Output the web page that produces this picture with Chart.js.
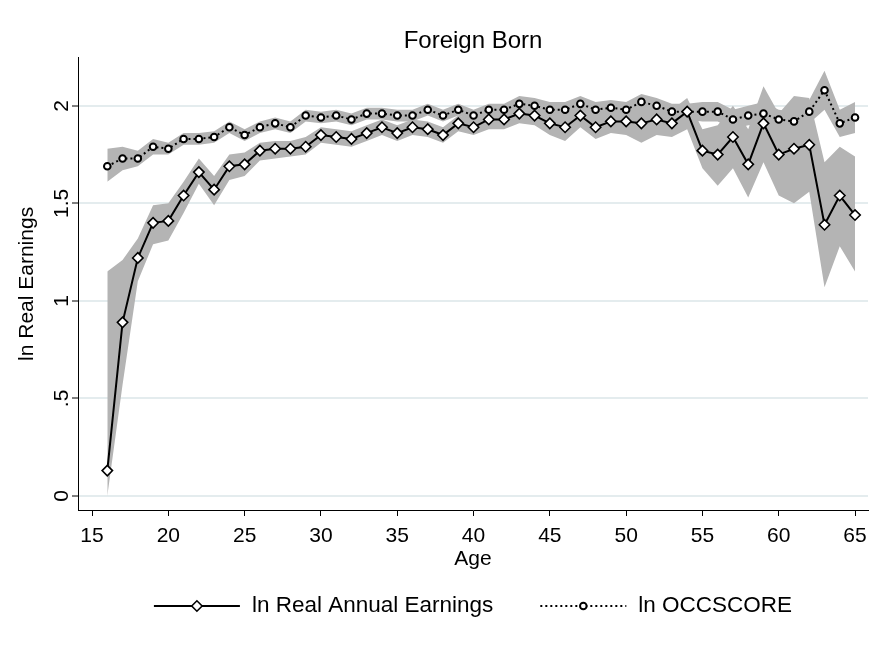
<!DOCTYPE html>
<html>
<head>
<meta charset="utf-8">
<script src="https://cdn.jsdelivr.net/npm/chart.js@4.4.1/dist/chart.umd.min.js"></script>
<style>
  html, body { margin: 0; padding: 0; background: #fff; }
  #wrap { width: 889px; height: 657px; }
</style>
</head>
<body>
<div id="wrap"><canvas id="chart" width="889" height="657"></canvas></div>
<script>
const ages = [16, 17, 18, 19, 20, 21, 22, 23, 24, 25, 26, 27, 28, 29, 30, 31, 32, 33, 34, 35,
    36, 37, 38, 39, 40, 41, 42, 43, 44, 45, 46, 47, 48, 49, 50, 51, 52, 53, 54, 55,
    56, 57, 58, 59, 60, 61, 62, 63, 64, 65];

// ln real annual earnings (diamonds, solid)
const earnings = [0.13, 0.89, 1.22, 1.40, 1.41, 1.54, 1.66, 1.57, 1.69, 1.70, 1.77, 1.78, 1.78, 1.79, 1.85, 1.84, 1.83, 1.86, 1.89, 1.86,
    1.89, 1.88, 1.85, 1.91, 1.89, 1.93, 1.93, 1.96, 1.95, 1.91, 1.89, 1.95, 1.89, 1.92, 1.92, 1.91, 1.93, 1.91, 1.97, 1.77,
    1.75, 1.84, 1.70, 1.91, 1.75, 1.78, 1.80, 1.39, 1.54, 1.44];
const earningsLow = [0.00, 0.57, 1.10, 1.29, 1.31, 1.45, 1.60, 1.49, 1.62, 1.64, 1.72, 1.73, 1.74, 1.75, 1.81, 1.80, 1.79, 1.82, 1.85, 1.82,
    1.85, 1.84, 1.81, 1.87, 1.85, 1.88, 1.88, 1.91, 1.90, 1.85, 1.82, 1.89, 1.83, 1.86, 1.85, 1.81, 1.85, 1.84, 1.88, 1.68,
    1.59, 1.68, 1.53, 1.71, 1.54, 1.50, 1.56, 1.07, 1.28, 1.15];
const earningsHigh = [1.15, 1.21, 1.32, 1.49, 1.50, 1.61, 1.73, 1.64, 1.75, 1.76, 1.81, 1.82, 1.82, 1.84, 1.89, 1.88, 1.87, 1.90, 1.93, 1.90,
    1.93, 1.92, 1.89, 1.95, 1.93, 1.97, 1.97, 2.00, 1.99, 1.96, 1.95, 2.00, 1.95, 1.98, 1.98, 2.00, 2.00, 1.98, 2.04, 1.88,
    1.90, 2.00, 1.88, 2.10, 1.96, 2.05, 2.04, 1.71, 1.79, 1.74];

// ln OCCSCORE (circles, dotted)
const occscore = [1.69, 1.73, 1.73, 1.79, 1.78, 1.83, 1.83, 1.84, 1.89, 1.85, 1.89, 1.91, 1.89, 1.95, 1.94, 1.95, 1.93, 1.96, 1.96, 1.95,
    1.95, 1.98, 1.95, 1.98, 1.95, 1.98, 1.98, 2.01, 2.00, 1.98, 1.98, 2.01, 1.98, 1.99, 1.98, 2.02, 2.00, 1.97, 1.97, 1.97,
    1.97, 1.93, 1.95, 1.96, 1.93, 1.92, 1.97, 2.08, 1.91, 1.94];
const occLow = [1.61, 1.67, 1.69, 1.75, 1.75, 1.80, 1.80, 1.81, 1.86, 1.82, 1.86, 1.88, 1.86, 1.92, 1.91, 1.92, 1.90, 1.93, 1.93, 1.92,
    1.92, 1.95, 1.92, 1.95, 1.92, 1.95, 1.95, 1.97, 1.96, 1.94, 1.94, 1.97, 1.94, 1.95, 1.94, 1.98, 1.96, 1.93, 1.93, 1.92,
    1.92, 1.88, 1.90, 1.90, 1.88, 1.87, 1.91, 1.98, 1.84, 1.86];
const occHigh = [1.78, 1.79, 1.77, 1.83, 1.81, 1.86, 1.86, 1.87, 1.92, 1.88, 1.92, 1.94, 1.92, 1.98, 1.97, 1.98, 1.96, 1.99, 1.99, 1.98,
    1.98, 2.01, 1.98, 2.01, 1.98, 2.01, 2.01, 2.05, 2.04, 2.02, 2.02, 2.05, 2.02, 2.03, 2.02, 2.06, 2.04, 2.01, 2.01, 2.02,
    2.02, 1.98, 2.00, 2.02, 1.98, 1.97, 2.03, 2.18, 1.98, 2.02];

const xTicks = [15, 20, 25, 30, 35, 40, 45, 50, 55, 60, 65];
const xTickLabels = ['15', '20', '25', '30', '35', '40', '45', '50', '55', '60', '65'];
const yTicks = [0, 0.5, 1, 1.5, 2];
const yTickLabels = ['0', '.5', '1', '1.5', '2'];

const FONT = "'Liberation Sans', Arial, sans-serif";
const BAND = '#b4b4b4';

const pts = (vals) => ages.map((a, i) => ({ x: a, y: vals[i] }));

const bandSet = (vals, fill) => ({
    data: pts(vals),
    fill: fill,
    backgroundColor: BAND,
    borderWidth: 0,
    pointRadius: 0,
    order: 5
});

// legend drawn like stata: line + marker sample, then label
const stataLegend = {
    id: 'stataLegend',
    afterDraw(chart) {
        const ctx = chart.ctx;
        const area = chart.chartArea;
        const items = [chart.data.datasets[5], chart.data.datasets[4]];
        const symW = 86, gapTxt = 12, gapItem = 47, y = 606;
        ctx.save();
        ctx.font = '22.5px ' + FONT;
        const widths = items.map(d => ctx.measureText(d.label).width);
        const total = symW * 2 + gapTxt * 2 + widths[0] + widths[1] + gapItem;
        let x = (area.left + area.right) / 2 - total / 2;
        items.forEach((d, i) => {
            ctx.strokeStyle = '#000';
            ctx.lineWidth = d.borderWidth;
            ctx.setLineDash(d.borderDash || []);
            ctx.beginPath();
            ctx.moveTo(x, y);
            ctx.lineTo(x + symW, y);
            ctx.stroke();
            ctx.setLineDash([]);
            ctx.fillStyle = '#fff';
            ctx.lineWidth = d.pointBorderWidth;
            Chart.helpers.drawPoint(ctx, {
                pointStyle: d.pointStyle,
                radius: d.pointRadius,
                borderWidth: d.pointBorderWidth,
                rotation: 0
            }, x + symW / 2, y);
            ctx.fillStyle = '#000';
            ctx.textAlign = 'left';
            ctx.textBaseline = 'middle';
            ctx.fillText(d.label, x + symW + gapTxt, y);
            x += symW + gapTxt + widths[i] + gapItem;
        });
        ctx.restore();
    }
};

const ctx = document.getElementById('chart').getContext('2d');
new Chart(ctx, {
    type: 'line',
    data: {
        datasets: [
            bandSet(earningsLow, false),
            bandSet(earningsHigh, '-1'),
            bandSet(occLow, false),
            bandSet(occHigh, '-1'),
            {
                label: 'ln OCCSCORE',
                data: pts(occscore),
                borderColor: '#000',
                borderWidth: 2,
                borderDash: [2, 3],
                pointStyle: 'circle',
                pointRadius: 3.3,
                pointBorderWidth: 2,
                pointBackgroundColor: '#fff',
                pointBorderColor: '#000',
                fill: false,
                order: 1
            },
            {
                label: 'ln Real Annual Earnings',
                data: pts(earnings),
                borderColor: '#000',
                borderWidth: 2,
                pointStyle: 'rectRot',
                pointRadius: 5.2,
                pointBorderWidth: 1.6,
                pointBackgroundColor: '#fff',
                pointBorderColor: '#000',
                fill: false,
                order: 0
            }
        ]
    },
    options: {
        responsive: false,
        devicePixelRatio: 1,
        animation: false,
        layout: { padding: { left: 0, right: 21, top: 0, bottom: 85 } },
        plugins: {
            legend: { display: false },
            tooltip: { enabled: false },
            title: {
                display: true,
                text: 'Foreign Born',
                fullSize: false,
                color: '#000',
                font: { family: FONT, size: 24, weight: 'normal' },
                padding: { top: 27, bottom: 2 }
            }
        },
        scales: {
            x: {
                type: 'linear',
                min: 14.08,
                max: 65.85,
                afterBuildTicks: (s) => { s.ticks = xTicks.map(v => ({ value: v })); },
                afterFit: (s) => { s.height = 62; },
                ticks: {
                    color: '#000',
                    padding: 8,
                    font: { family: FONT, size: 21 },
                    maxRotation: 0,
                    callback: (v) => xTickLabels[xTicks.indexOf(v)]
                },
                grid: { drawOnChartArea: false, drawTicks: true, tickLength: 6, tickColor: '#000', tickWidth: 1 },
                border: { display: true, color: '#000', width: 1 },
                title: {
                    display: true,
                    text: 'Age',
                    color: '#000',
                    font: { family: FONT, size: 21 },
                    padding: { top: 0, bottom: 0 }
                }
            },
            y: {
                type: 'linear',
                min: -0.072,
                max: 2.246,
                afterBuildTicks: (s) => { s.ticks = yTicks.map(v => ({ value: v })); },
                afterFit: (s) => { s.width = 78; },
                ticks: {
                    color: '#000',
                    padding: -5,
                    minRotation: 90,
                    maxRotation: 90,
                    crossAlign: 'center',
                    font: { family: FONT, size: 21 },
                    callback: (v) => yTickLabels[yTicks.indexOf(v)]
                },
                grid: { color: '#e4ecee', lineWidth: 2, drawTicks: true, tickLength: 6, tickColor: '#000', tickWidth: 1 },
                border: { display: true, color: '#000', width: 1 },
                title: {
                    display: true,
                    text: 'ln Real Earnings',
                    color: '#000',
                    font: { family: FONT, size: 21 },
                    padding: { top: 15, bottom: 0 }
                }
            }
        }
    },
    plugins: [stataLegend]
});
</script>
</body>
</html>
